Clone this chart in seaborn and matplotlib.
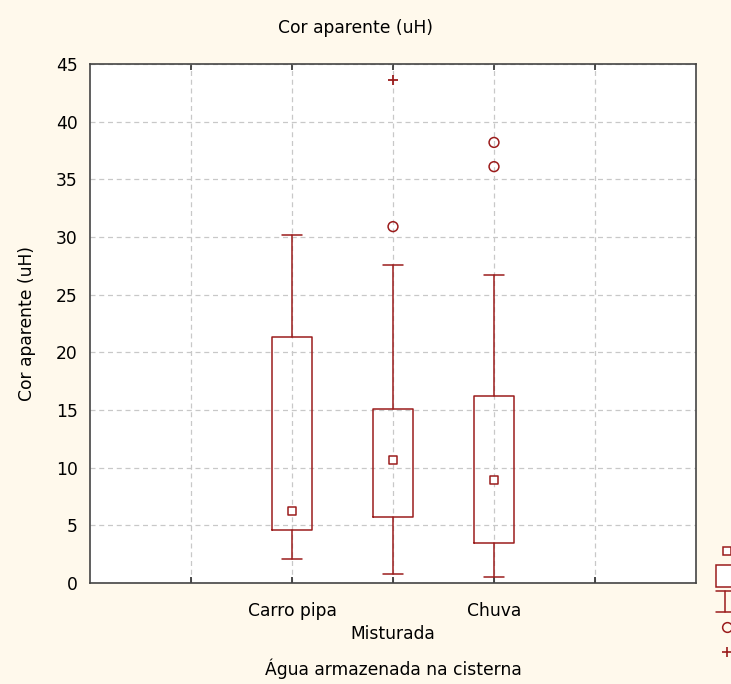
import matplotlib
matplotlib.use("Agg")
import matplotlib.pyplot as plt
import seaborn as sns
import pandas as pd
from matplotlib.lines import Line2D
from matplotlib.patches import Rectangle
from matplotlib.legend_handler import HandlerBase

# ---- data ----
categories = ["Carro pipa", "Misturada", "Chuva"]
medians = [6.2, 10.7, 8.9]
q1 = [4.6, 5.7, 3.5]
q3 = [21.3, 15.1, 16.2]
whisker_low = [2.1, 0.8, 0.5]
whisker_high = [30.2, 27.6, 26.7]
outliers = [[], [30.9], [38.2, 36.1]]
extremes = [[], [43.6], []]
y_ticks = [0, 5, 10, 15, 20, 25, 30, 35, 40, 45]

# ---- style ----
sns.set_theme(style="white")
plt.rcParams['font.family'] = ['DejaVu Sans']

RED = "#9B1C1C"
BG = "#FFF9EC"
FS = 12.3

positions = [2, 3, 4]

fig = plt.figure(figsize=(7.31, 6.84), dpi=100, facecolor=BG)
ax = fig.add_axes([90 / 731, 1 - 583 / 684, 606 / 731, 519 / 684])
ax.set_facecolor("white")

stats = [dict(med=m, q1=a, q3=b, whislo=lo, whishi=hi, fliers=[], label=c)
         for m, a, b, lo, hi, c in zip(medians, q1, q3, whisker_low, whisker_high, categories)]
line = dict(color=RED, lw=1.1)
ax.bxp(stats, positions=positions, widths=0.4, capwidths=0.2, showfliers=False,
       boxprops=line, whiskerprops=line, capprops=line,
       medianprops=dict(linestyle="none"), manage_ticks=False, zorder=3)

# median squares
med_df = pd.DataFrame({"x": positions, "y": medians})
sns.scatterplot(data=med_df, x="x", y="y", marker="s", s=36, facecolor="white",
                edgecolor=RED, linewidth=1.1, ax=ax, zorder=4, legend=False)

out_x, out_y = [], []
for p, vals in zip(positions, outliers):
    for v in vals:
        out_x.append(p); out_y.append(v)
sns.scatterplot(x=out_x, y=out_y, marker="o", s=50, facecolor="none",
                edgecolor=RED, linewidth=1.1, ax=ax, zorder=4, legend=False)

ext_x, ext_y = [], []
for p, vals in zip(positions, extremes):
    for v in vals:
        ext_x.append(p); ext_y.append(v)
sns.scatterplot(x=ext_x, y=ext_y, marker="+", s=45, color=RED,
                linewidth=1.3, ax=ax, zorder=4, legend=False)

# axes
ax.set_xlim(0, 6)
ax.set_ylim(0, 45)
ax.set_yticks(y_ticks)
ax.set_yticklabels([str(t) for t in y_ticks], fontsize=FS)
ax.xaxis.remove_overlapping_locs = False
ax.set_xticks([1, 2, 3, 4, 5])
ax.set_xticklabels(["", categories[0], "", categories[2], ""], fontsize=FS)
ax.set_xticks([3], minor=True)
ax.set_xticklabels([categories[1]], minor=True, fontsize=FS)
ax.tick_params(axis="x", which="minor", length=0, pad=30)
ax.tick_params(axis="x", which="major", direction="in", length=4, pad=14,
               top=True, bottom=True, color="#333333")
ax.tick_params(axis="y", direction="in", length=0, pad=9, left=True)
for lab in ax.get_xticklabels() + ax.get_xticklabels(minor=True) + ax.get_yticklabels():
    lab.set_color("black")

ax.grid(True, which="major", color="#C8C8C8", linestyle=(0, (4, 3)), linewidth=0.9)
ax.set_axisbelow(True)
for s in ax.spines.values():
    s.set_color("#444444")
    s.set_linewidth(1.2)

ax.set_ylabel("Cor aparente (uH)", fontsize=FS, color="black", labelpad=14)
ax.set_xlabel("")
fig.text(393 / 731, 1 - 669 / 684, "Água armazenada na cisterna", ha="center",
         va="center", fontsize=FS, color="black")
fig.text(356 / 731, 1 - 28 / 684, "Cor aparente (uH)", ha="center",
         va="center", fontsize=FS, color="black")


# legend symbols (cut off at the right edge, as in the reference)
class BoxHandler(HandlerBase):
    def create_artists(self, legend, orig_handle, xdescent, ydescent, width,
                       height, fontsize, trans):
        h = height * 1.8
        r = Rectangle((-xdescent, -ydescent + height / 2 - h / 2), width, h,
                      facecolor="white", edgecolor=RED, linewidth=1.1, transform=trans)
        return [r]


class WhiskerHandler(HandlerBase):
    def create_artists(self, legend, orig_handle, xdescent, ydescent, width,
                       height, fontsize, trans):
        h = height * 1.7
        y0 = -ydescent + height / 2 - h / 2
        x0 = -xdescent
        xc = x0 + width * 0.4
        arts = [
            Line2D([xc, xc], [y0, y0 + h], color=RED, lw=1.1, transform=trans),
            Line2D([x0, x0 + width * 0.8], [y0 + h, y0 + h], color=RED, lw=1.1, transform=trans),
            Line2D([x0, x0 + width * 0.8], [y0, y0], color=RED, lw=1.1, transform=trans),
        ]
        return arts


box_handle = Rectangle((0, 0), 1, 1)
whisker_handle = Line2D([], [])
handles = [
    Line2D([], [], marker="s", linestyle="none", markerfacecolor="white",
           markeredgecolor=RED, markersize=6, markeredgewidth=1.1),
    box_handle,
    whisker_handle,
    Line2D([], [], marker="o", linestyle="none", markerfacecolor="none",
           markeredgecolor=RED, markersize=7, markeredgewidth=1.1),
    Line2D([], [], marker="+", linestyle="none", color=RED, markersize=7,
           markeredgewidth=1.2),
]
fig.legend(handles, [""] * 5, loc="upper left",
           bbox_to_anchor=(716 / 731, 1 - 543 / 684),
           frameon=False, fontsize=FS, handlelength=1.25, labelspacing=0.42,
           handletextpad=0, borderaxespad=0, borderpad=0,
           handler_map={box_handle: BoxHandler(), whisker_handle: WhiskerHandler()})

fig.savefig("out.png", dpi=100, facecolor=BG)
